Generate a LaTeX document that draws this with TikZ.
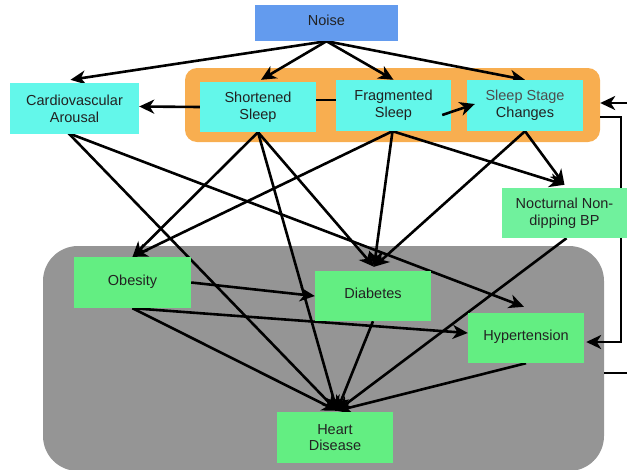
\documentclass[tikz,border=0pt]{standalone}
\usepackage{fontspec}
\setmainfont{Liberation Sans}
\usetikzlibrary{arrows.meta,calc}
\definecolor{noiseblue}{HTML}{639BEE}
\definecolor{cyanbox}{HTML}{63F7EA}
\definecolor{orangegrp}{HTML}{F8AE50}
\definecolor{greenbox}{HTML}{63EE82}
\definecolor{mintbox}{HTML}{70F19D}
\definecolor{graygrp}{HTML}{959595}
\definecolor{textc}{HTML}{222222}
\pgfdeclarelayer{back}
\pgfdeclarelayer{mid}
\pgfsetlayers{back,mid,main}
\begin{document}
\begin{tikzpicture}[x=1pt,y=-1pt,
  box/.style={draw=none,inner sep=0pt,align=center,text=textc,
    font=\fontsize{14.5}{16.7}\selectfont},
  oneline/.style={text height=10.5pt,text depth=5.5pt},
  grp/.style={draw=none,inner sep=0pt},
  conn/.style={line width=2.6pt,draw=black},
  arr/.style={conn,-{Stealth[length=15pt,width=14pt,inset=4.5pt]}}]
\useasboundingbox (0,0) rectangle (627,469);
\begin{pgfonlayer}{back}
\node[grp,fill=orangegrp,rounded corners=12pt,minimum width=415pt,minimum height=74pt] (sleepgrp) at (392.5,105) {};
\node[grp,fill=graygrp,rounded corners=35pt,minimum width=561pt,minimum height=225pt] (diseasegrp) at (323.5,358.5) {};
\end{pgfonlayer}
% nodes
\node[box,oneline,fill=noiseblue,minimum width=143pt,minimum height=36pt] (noise) at (326.5,23) {Noise};
\node[box,fill=cyanbox,minimum width=129pt,minimum height=51pt] (cardio) at (74.5,108.5) {Cardiovascular\\Arousal};
\node[box,fill=cyanbox,minimum width=116pt,minimum height=50pt] (short) at (258,107) {Shortened\\Sleep};
\node[box,fill=cyanbox,minimum width=115pt,minimum height=51pt] (frag) at (393.5,105.5) {Fragmented\\Sleep};
\node[box,fill=cyanbox,minimum width=116pt,minimum height=51pt] (stage) at (525,105.5) {\textcolor{textc!80!white}{Sleep Stage}\\Changes};
\node[box,fill=mintbox,minimum width=125pt,minimum height=50pt] (noct) at (564.5,213) {Nocturnal Non-\\dipping BP};
\node[box,oneline,fill=greenbox,minimum width=117pt,minimum height=51pt] (obes) at (132.5,282.5) {Obesity};
\node[box,oneline,fill=greenbox,minimum width=116pt,minimum height=50pt] (diab) at (373,296) {Diabetes};
\node[box,oneline,fill=greenbox,minimum width=116pt,minimum height=50pt] (hyper) at (526,338) {Hypertension};
\node[box,fill=greenbox,minimum width=116pt,minimum height=51pt] (heart) at (335,437.5) {Heart\\Disease};
% free ends
\coordinate (rin) at (627,103);
\coordinate (fb1) at (621,117);
\coordinate (fb2) at (621,342);
\coordinate (gout) at (627,373);
\begin{pgfonlayer}{mid}
% from noise
\draw[arr] (noise.south) -- ($(cardio.north)+(-4,-3)$);
\draw[arr] (noise.south) -- ($(short.north)+(3,-2)$);
\draw[arr] (noise.south) -- (frag.north);
\draw[arr] (noise.south) -- (stage.north);
% within sleep group
\draw[arr] (short.west) -- ($(cardio.east)+(0,-2)$);
\draw[conn] ($(short.east)+(0,-7)$) -- ($(frag.west)+(0,-5.5)$);
% right side
\draw[arr] (rin) -- (sleepgrp.east |- rin);
\draw[arr,line join=miter] ($(sleepgrp.east)+(0,12)$) -- (fb1) -- (fb2) -- ($(hyper.east |- fb2)+(2,0)$);
\draw[conn] (diseasegrp.east |- gout) -- (gout);
% cardio
\draw[arr] ($(cardio.south)+(-6,-1)$) -- ($(heart.north)+(2,-1)$);
\draw[arr] ($(cardio.south)+(-6,-1)$) -- ($(hyper.north)+(-2,-6)$);
% shortened
\draw[arr] (short.south) -- (obes.north);
\draw[arr] (short.south) -- ($(heart.north)+(2,-1)$);
\draw[arr] (short.south) -- ($(diab.north)+(1,-4)$);
% fragmented
\draw[arr] ($(frag.south)+(-1,0)$) -- (obes.north);
\draw[arr] ($(frag.south)+(-1,0)$) -- ($(diab.north)+(1,-4)$);
\draw[arr] ($(frag.south)+(-1,0)$) -- ($(noct.north)+(0,-3)$);
% stage
\draw[arr] (stage.south) -- ($(diab.north)+(1,-4)$);
\draw[arr] (stage.south) -- ($(noct.north)+(0,-3)$);
% obesity
\draw[arr] (obes.east) -- (diab.west);
\draw[arr] (obes.south) -- ($(hyper.west)+(0,-5)$);
\draw[arr] (obes.south) -- ($(heart.north)+(2,-1)$);
% others to heart
\draw[arr] (diab.south) -- ($(heart.north)+(2,-1)$);
\draw[arr] ($(noct.south)+(2,0)$) -- ($(heart.north)+(2,-1)$);
\draw[arr] (hyper.south) -- ($(heart.north)+(2,-1)$);
\end{pgfonlayer}
\draw[arr] ($(frag.east)+(-9,9.5)$) -- ($(stage.west)+(8,-1.5)$);
\end{tikzpicture}
\end{document}
